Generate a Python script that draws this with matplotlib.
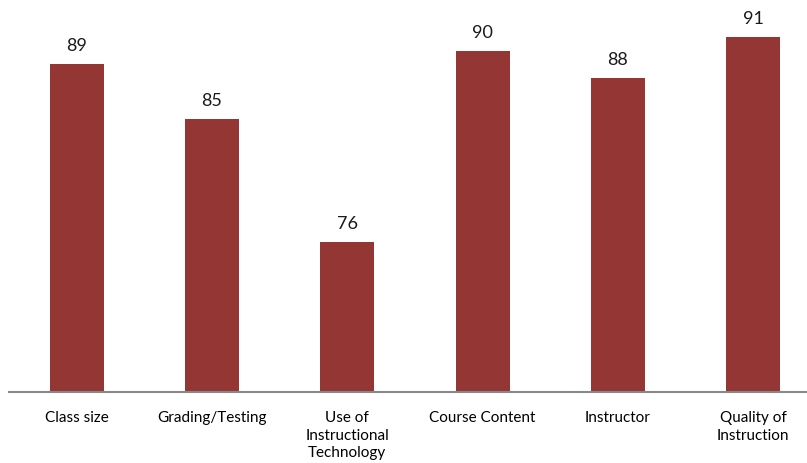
import numpy as np
import matplotlib.pyplot as plt

plt.rcParams['font.family'] = ['Lato', 'DejaVu Sans']

categories = ['Class size', 'Grading/Testing', 'Use of\nInstructional\nTechnology',
              'Course Content', 'Instructor', 'Quality of\nInstruction']
values = [89, 85, 76, 90, 88, 91]

W, H = 807, 464
fig = plt.figure(figsize=(W / 100, H / 100), dpi=100)
# axes from x=9px to right edge, baseline at y=392.6px
ax = fig.add_axes([9 / W, (H - 392.6) / H, (W - 9) / W, 392.6 / H])

x = np.arange(len(categories))
ax.bar(x, values, width=0.4, color='#943634')

for xi, v in zip(x, values):
    ax.annotate(str(v), (xi, v), xytext=(0, 8), textcoords='offset points',
                ha='center', va='bottom', fontsize=13, color='#1a1a1a')

ax.set_ylim(65, 93.8)
ax.set_xlim(-0.5, 5.397)
ax.set_xticks(x)
ax.set_xticklabels(categories, fontsize=11, linespacing=1.35)
ax.tick_params(axis='x', length=0, pad=13)
ax.set_yticks([])
for s in ['top', 'right', 'left']:
    ax.spines[s].set_visible(False)
ax.spines['bottom'].set_color('#888888')
ax.spines['bottom'].set_linewidth(1.5)

fig.savefig('out.png', dpi=100)
